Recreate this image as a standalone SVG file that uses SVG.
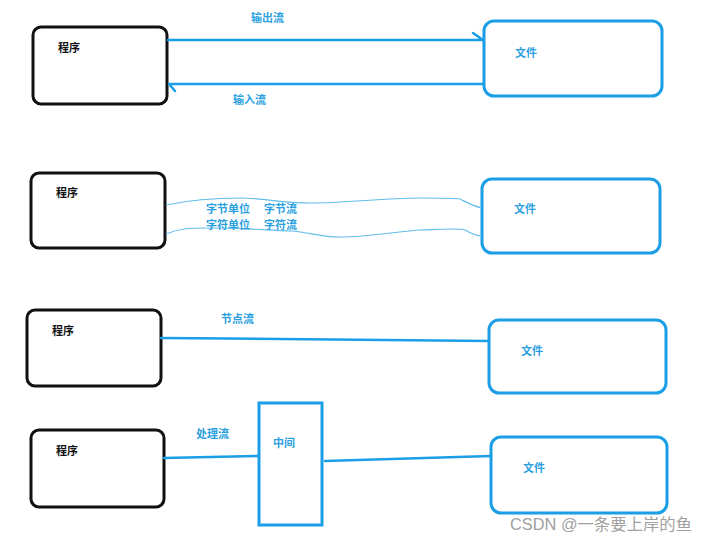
<svg xmlns="http://www.w3.org/2000/svg" width="707" height="542" viewBox="0 0 707 542">
  <style>
    .prog { fill: #fff; stroke: #111; stroke-width: 3; }
    .file { fill: #fff; stroke: #1a9ee6; stroke-width: 3; }
    .mid { fill: #fff; stroke: #1a9ee6; stroke-width: 3; }
    .conn { fill: none; stroke: #1a9ee6; stroke-width: 2.5; stroke-linecap: round; }
    .wave { fill: none; stroke: #62bdea; stroke-width: 1.2; }
    .lbl { font-family: "Noto Sans CJK SC", "Noto Sans", sans-serif; font-size: 11px; font-weight: bold; }
    .dark { fill: #111; }
    .blue { fill: #2a9fe0; }
    .mark { font-family: "Liberation Sans", "Noto Sans CJK SC", sans-serif; font-size: 16px; fill: #a0a0a0; }
  </style>
  <rect width="707" height="542" fill="#fff"/>

  <!-- row 1: output / input stream -->
  <g id="prog1"><rect class="prog" x="33" y="27" width="134" height="77" rx="8"/><text class="lbl dark" x="58" y="52">程序</text></g>
  <g id="file1"><rect class="file" x="484" y="21" width="178" height="75" rx="10"/><text class="lbl blue" x="515" y="57">文件</text></g>

  <!-- row 2: byte / char stream -->
  <g id="prog2"><rect class="prog" x="31" y="173" width="134" height="75" rx="8"/><text class="lbl dark" x="56" y="197">程序</text></g>
  <g id="file2"><rect class="file" x="482" y="179" width="178" height="74" rx="10"/><text class="lbl blue" x="514" y="213">文件</text></g>

  <!-- row 3: node stream -->
  <g id="prog3"><rect class="prog" x="27" y="310" width="134" height="76" rx="8"/><text class="lbl dark" x="52" y="335">程序</text></g>
  <g id="file3"><rect class="file" x="489" y="320" width="177" height="73" rx="10"/><text class="lbl blue" x="521" y="355">文件</text></g>

  <!-- row 4: processing stream -->
  <g id="prog4"><rect class="prog" x="31" y="430" width="133" height="77" rx="8"/><text class="lbl dark" x="56" y="455">程序</text></g>
  <g id="mid4"><rect class="mid" x="259" y="403" width="63" height="122"/><text class="lbl blue" x="273" y="447">中间</text></g>
  <g id="file4"><rect class="file" x="491" y="437" width="176" height="76" rx="10"/><text class="lbl blue" x="523" y="472">文件</text></g>

  <g id="connectors">
    <!-- output stream -->
    <path class="conn" d="M168 40 L483 40 M473 33 L483 40"/>
    <text class="lbl blue" x="251" y="22">输出流</text>
    <!-- input stream -->
    <path class="conn" d="M483 84 L169 84 M169 84 L175 91"/>
    <text class="lbl blue" x="233" y="104">输入流</text>

    <!-- byte / char streams -->
    <path class="wave" d="M166 205 C190 200 215 198 240 198 C265 198 280 203 310 203 C350 203 380 198 420 198 C445 198 455 198 460 199 C470 204 475 207 482 208"/>
    <path class="wave" d="M166 234 C180 228 190 228 210 228 C240 228 265 230 290 231 C310 232 320 237 340 237 C370 237 400 231 420 230 C445 229 460 228 465 230 C472 234 476 236 482 236"/>
    <text class="lbl blue" x="206" y="213">字节单位<tspan x="264">字节流</tspan></text>
    <text class="lbl blue" x="206" y="229">字符单位<tspan x="264">字符流</tspan></text>

    <!-- node stream -->
    <path class="conn" d="M161 338 L489 341"/>
    <text class="lbl blue" x="221" y="323">节点流</text>

    <!-- processing stream -->
    <path class="conn" d="M164 458 L258 456"/>
    <path class="conn" d="M325 461 L491 456"/>
    <text class="lbl blue" x="196" y="438">处理流</text>
  </g>

  <text class="mark" x="510" y="530" textLength="182" lengthAdjust="spacingAndGlyphs">CSDN @一条要上岸的鱼</text>
</svg>
